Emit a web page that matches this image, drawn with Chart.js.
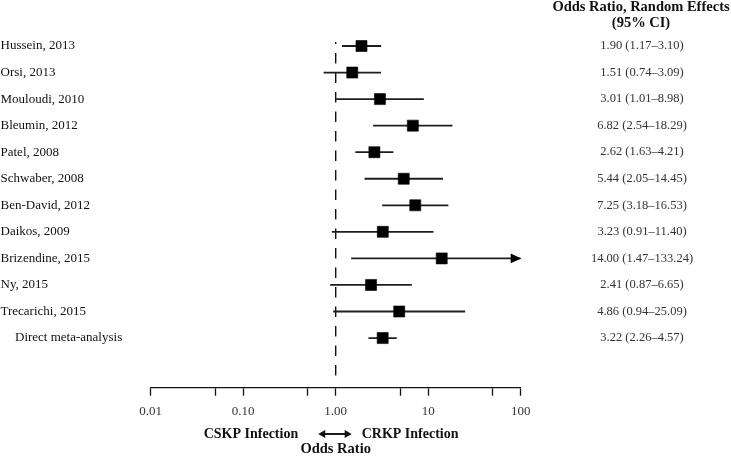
<!DOCTYPE html>
<html><head><meta charset="utf-8">
<script src="https://cdn.jsdelivr.net/npm/chart.js@4.4.1/dist/chart.umd.min.js"></script>
<style>html,body{margin:0;padding:0;background:#fff;}#wrap{width:731px;height:457px;position:relative;}</style>
</head><body><div id="wrap"><canvas id="c" width="731" height="457"></canvas></div>
<script>
const studies = ["Hussein, 2013","Orsi, 2013","Mouloudi, 2010","Bleumin, 2012","Patel, 2008","Schwaber, 2008","Ben-David, 2012","Daikos, 2009","Brizendine, 2015","Ny, 2015","Trecarichi, 2015","Direct meta-analysis"];
const oddsRatio = [1.90,1.51,3.01,6.82,2.62,5.44,7.25,3.23,14.00,2.41,4.86,3.22];
const ciLower   = [1.17,0.74,1.01,2.54,1.63,2.05,3.18,0.91,1.47,0.87,0.94,2.26];
const ciUpper   = [3.10,3.09,8.98,18.29,4.21,14.45,16.53,11.40,133.24,6.65,25.09,4.57];
const SUMMARY_INDEX = 11;
const tickValues = [0.01,0.05,0.1,0.5,1,5,10,50,100];
const tickLabels = {0.01:"0.01",0.1:"0.10",1:"1.00",10:"10",100:"100"};
const headerLines = ["Odds Ratio, Random Effects","(95% CI)"];
const leftLabel = "CSKP Infection", rightLabel = "CRKP Infection", axisTitle = "Odds Ratio";
const X_MIN = 0.01, X_MAX = 100, REF = 1;

const FONT = '"Liberation Serif", "DejaVu Serif", serif';

const datasets = [];
studies.forEach((s,i)=>{
  datasets.push({type:'line', data:[{x:ciLower[i],y:i},{x:Math.min(ciUpper[i],X_MAX),y:i}],
    borderColor:'#1e1e1e', borderWidth:1.8, pointRadius:0, fill:false, order:2});
});
datasets.push({type:'line', data:[{x:REF,y:-0.15},{x:REF,y:12.72}], borderColor:'#111', borderWidth:1.4,
  borderDash:[10.5,9], borderDashOffset:8.5, pointRadius:0, fill:false, order:3});
datasets.push({type:'scatter', data:oddsRatio.map((v,i)=>({x:v,y:i})), pointStyle:'rect', pointRadius:7.8,
  backgroundColor:'#000', borderColor:'#000', borderWidth:0.6, order:1});

const forestText = {
  id:'forestText',
  afterDraw(chart){
    const {ctx, scales:{x,y}} = chart;
    ctx.save();
    ctx.textBaseline='middle';
    ctx.font = '13px '+FONT; ctx.fillStyle='#111'; ctx.textAlign='left';
    studies.forEach((s,i)=>ctx.fillText(s, i===SUMMARY_INDEX?15:0.5, y.getPixelForValue(i)));
    ctx.font = '12.5px '+FONT; ctx.fillStyle='#333'; ctx.textAlign='center';
    studies.forEach((s,i)=>ctx.fillText(`${oddsRatio[i].toFixed(2)} (${ciLower[i].toFixed(2)}\u2013${ciUpper[i].toFixed(2)})`, 642, y.getPixelForValue(i)));
    ctx.font = 'bold 14.5px '+FONT; ctx.fillStyle='#111';
    ctx.fillText(headerLines[0], 641, 7);
    ctx.fillText(headerLines[1], 641, 23);
    ctx.fillStyle='#000';
    studies.forEach((s,i)=>{
      if (ciUpper[i] > X_MAX) {
        const px = x.getPixelForValue(X_MAX), py = y.getPixelForValue(i);
        ctx.beginPath(); ctx.moveTo(px+0.5,py); ctx.lineTo(px-10,py-4.8); ctx.lineTo(px-10,py+4.8); ctx.closePath(); ctx.fill();
      }
    });
    const cx = x.getPixelForValue(REF);
    const by = 434;
    ctx.font = 'bold 14px '+FONT; ctx.fillStyle='#111';
    ctx.textAlign='right'; ctx.fillText(leftLabel, cx-37.5, by);
    ctx.textAlign='left'; ctx.fillText(rightLabel, cx+26, by);
    ctx.font = 'bold 14.5px '+FONT;
    ctx.textAlign='center'; ctx.fillText(axisTitle, cx, 449.5);
    const ax0 = cx-17.5, ax1 = cx+16;
    ctx.strokeStyle='#000'; ctx.lineWidth=1.8;
    ctx.beginPath(); ctx.moveTo(ax0+5,by); ctx.lineTo(ax1-5,by); ctx.stroke();
    ctx.beginPath(); ctx.moveTo(ax0,by); ctx.lineTo(ax0+7,by-4); ctx.lineTo(ax0+7,by+4); ctx.closePath(); ctx.fill();
    ctx.beginPath(); ctx.moveTo(ax1,by); ctx.lineTo(ax1-7,by-4); ctx.lineTo(ax1-7,by+4); ctx.closePath(); ctx.fill();
    ctx.restore();
  }
};

new Chart(document.getElementById('c'), {
  data:{datasets},
  options:{
    responsive:false, animation:false, devicePixelRatio:1,
    layout:{padding:{left:150.7, right:210.3, top:19.45, bottom:0}},
    plugins:{legend:{display:false}, tooltip:{enabled:false}},
    scales:{
      x:{type:'logarithmic', min:X_MIN, max:X_MAX, position:'bottom',
        afterBuildTicks:s=>{ s.ticks = tickValues.map(v=>({value:v})); },
        afterFit:s=>{ s.height = 69.3; },
        grid:{display:true, drawOnChartArea:false, drawTicks:true, tickLength:8, tickWidth:1.3, tickColor:'#111'},
        border:{display:true, color:'#111', width:1.3},
        ticks:{autoSkip:false, maxRotation:0, minRotation:0, padding:8.5, color:'#333',
          font:{family:FONT, size:13}, callback:(v)=> tickLabels[v] ?? ''}
      },
      y:{type:'linear', min:-1, max:12.87, reverse:true, display:false}
    }
  },
  plugins:[forestText]
});
</script></body></html>
